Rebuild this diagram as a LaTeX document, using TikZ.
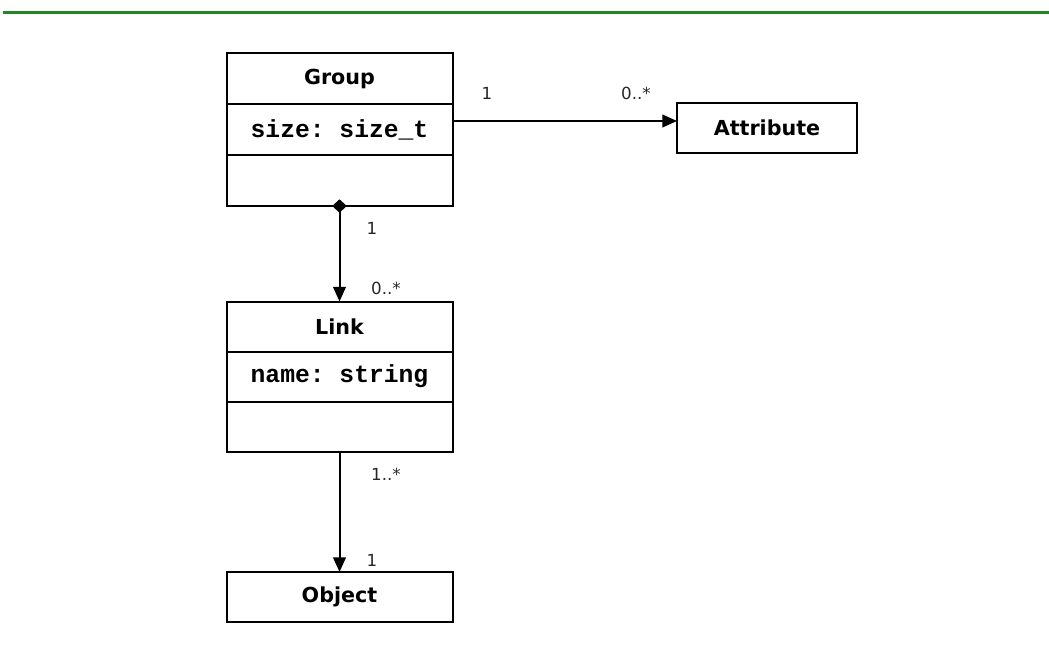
\documentclass[tikz,border=0pt]{standalone}
\usepackage{fontspec}
\setmainfont{DejaVu Sans}
\setmonofont{Liberation Mono}
\usetikzlibrary{arrows.meta,positioning}
\definecolor{rulegreen}{RGB}{34,134,34}

\begin{document}
\begin{tikzpicture}[x=0.75pt,y=-0.75pt,
		cls/.style={draw,line width=1.5pt,minimum width=169.5pt,minimum height=38.25pt,inner sep=0pt,outer sep=0pt,
			font=\bfseries\fontsize{15.5}{18}\selectfont},
		field/.style={cls,font=\ttfamily\bfseries\fontsize{18.5}{20}\selectfont},
		mult/.style={inner sep=0pt,text=black!85,font=\fontsize{12.5}{14}\selectfont},
		every edge/.style={draw,line width=1.5pt}]
		\useasboundingbox (0,0) rectangle (1049,656);
		\draw[rulegreen,line width=2.25pt] (3,12.5) -- (1049,12.5);
		
		\node[cls] (gHead) at (339.5,78.5) {Group};
		\node[field,below=0pt of gHead] (gAttr) {size: size\_t};
		\node[cls,below=0pt of gAttr] (gOps) {};
		
		\node[cls,minimum width=135pt,minimum height=37.5pt] (attr) at (767,128) {Attribute};
		
		\node[cls,minimum height=37.5pt] (lHead) at (339.5,326.5) {Link};
		\node[field,below=0pt of lHead,minimum height=37.5pt] (lAttr) {name: string};
		\node[cls,below=0pt of lAttr,minimum height=37.5pt] (lOps) {};
		
		\node[cls,minimum height=37.5pt] (obj) at (339.5,597) {Object};
		
		\coordinate (gOut) at (453,121);
		\draw (gOut) edge[-{Triangle[length=11pt,width=9.5pt]}] (gOut -| attr.west);
		\draw (gOps.south) edge[{Diamond[length=10pt,width=11pt]}-{Triangle[length=11pt,width=9.5pt]},shorten <=-5pt] (lHead.north);
		\draw (lOps.south) edge[-{Triangle[length=11pt,width=9.5pt]}] (obj.north);
		
		\node[mult] (m1) at (487,93) {1};
		\node[mult] (m2) at (636,93) {0..*};
		\node[mult] (m3) at (372,228) {1};
		\node[mult] (m4) at (386,288) {0..*};
		\node[mult] (m5) at (386,474) {1..*};
		\node[mult] (m6) at (372,560) {1};
	\end{tikzpicture}
\end{document}
